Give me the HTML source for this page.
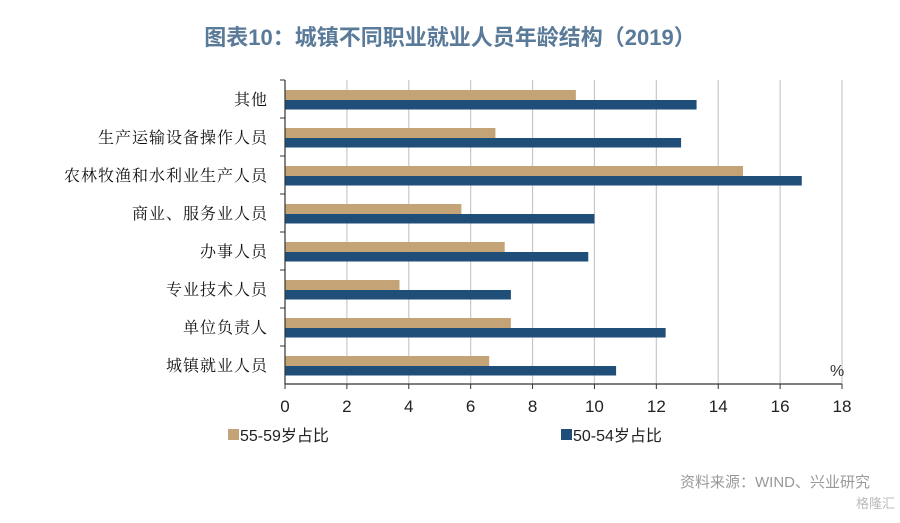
<!DOCTYPE html>
<html><head><meta charset="utf-8"><style>
body{margin:0;background:#fff;width:900px;height:518px;overflow:hidden;font-family:"Liberation Sans","Noto Sans CJK SC",sans-serif;}
</style></head><body>
<svg width="900" height="518">
<text x="450" y="45" text-anchor="middle" font-size="22" font-weight="bold" fill="#5a7a99" font-family="Liberation Sans, Noto Sans CJK SC, sans-serif">图表10：城镇不同职业就业人员年龄结构（2019）</text>
<g id="plot"></g>
<text x="830" y="376" font-size="16" fill="#333">%</text>
<rect x="228" y="429" width="11" height="11" fill="#c4a477"/>
<text x="240" y="441" font-size="16" fill="#222" font-family="Liberation Sans, Noto Sans CJK SC, sans-serif">55-59岁占比</text>
<rect x="561" y="429" width="11" height="11" fill="#1f4e79"/>
<text x="573" y="441" font-size="16" fill="#222" font-family="Liberation Sans, Noto Sans CJK SC, sans-serif">50-54岁占比</text>
<text x="870" y="487" text-anchor="end" font-size="15" fill="#999">资料来源：WIND、兴业研究</text>
<text x="895" y="508" text-anchor="end" font-size="13" fill="#bbb">格隆汇</text>
</svg>
<script>
const categories=["其他","生产运输设备操作人员","农林牧渔和水利业生产人员","商业、服务业人员","办事人员","专业技术人员","单位负责人","城镇就业人员"];
const series5559=[9.4,6.8,14.8,5.7,7.1,3.7,7.3,6.6];
const series5054=[13.3,12.8,16.7,10.0,9.8,7.3,12.3,10.7];
const xTicks=[0,2,4,6,8,10,12,14,16,18];
const NS="http://www.w3.org/2000/svg";
const g=document.getElementById('plot');
const x0=285,x1=842,plotTop=80,plotBottom=384,xmax=18;
const xs=v=>x0+(x1-x0)*v/xmax;
const band=(plotBottom-plotTop)/categories.length;
function mk(t,a){const e=document.createElementNS(NS,t);for(const k in a)e.setAttribute(k,a[k]);g.appendChild(e);return e;}
xTicks.forEach(t=>{
  if(t>0){const l=mk('line',{x1:xs(t),x2:xs(t),y1:plotTop,y2:plotBottom,stroke:'#c8c8c8','stroke-width':1.2});
  
  }
  const tx=mk('text',{x:xs(t),y:412,'text-anchor':'middle','font-size':17,fill:'#222'});
  tx.textContent=t;
  
  
  const tk=mk('line',{x1:xs(t),x2:xs(t),y1:plotBottom,y2:plotBottom+5,stroke:'#333'});
  
  
});
categories.forEach((c,i)=>{
  const y=plotTop+i*band;
  const a=mk('rect',{x:x0,y:y+10,width:xs(series5559[i])-x0,height:10,fill:'#c4a477'});
  
  
  const b=mk('rect',{x:x0,y:y+20,width:xs(series5054[i])-x0,height:9.5,fill:'#1f4e79'});
  
  
  const t=mk('text',{x:268,y:y+band/2+6,'text-anchor':'end','font-size':16,fill:'#111','font-family':'Noto Serif CJK SC, serif','letter-spacing':'1'});
  t.textContent=c;
  
  
  const k=mk('line',{x1:x0-5,x2:x0,y1:y,y2:y,stroke:'#333'});
  
  
});
const ya=mk('line',{x1:x0,x2:x0,y1:plotTop,y2:plotBottom,stroke:'#333','stroke-width':1.2});


const xa=mk('line',{x1:x0,x2:x1,y1:plotBottom,y2:plotBottom,stroke:'#333','stroke-width':1.2});


</script>
</body></html>
